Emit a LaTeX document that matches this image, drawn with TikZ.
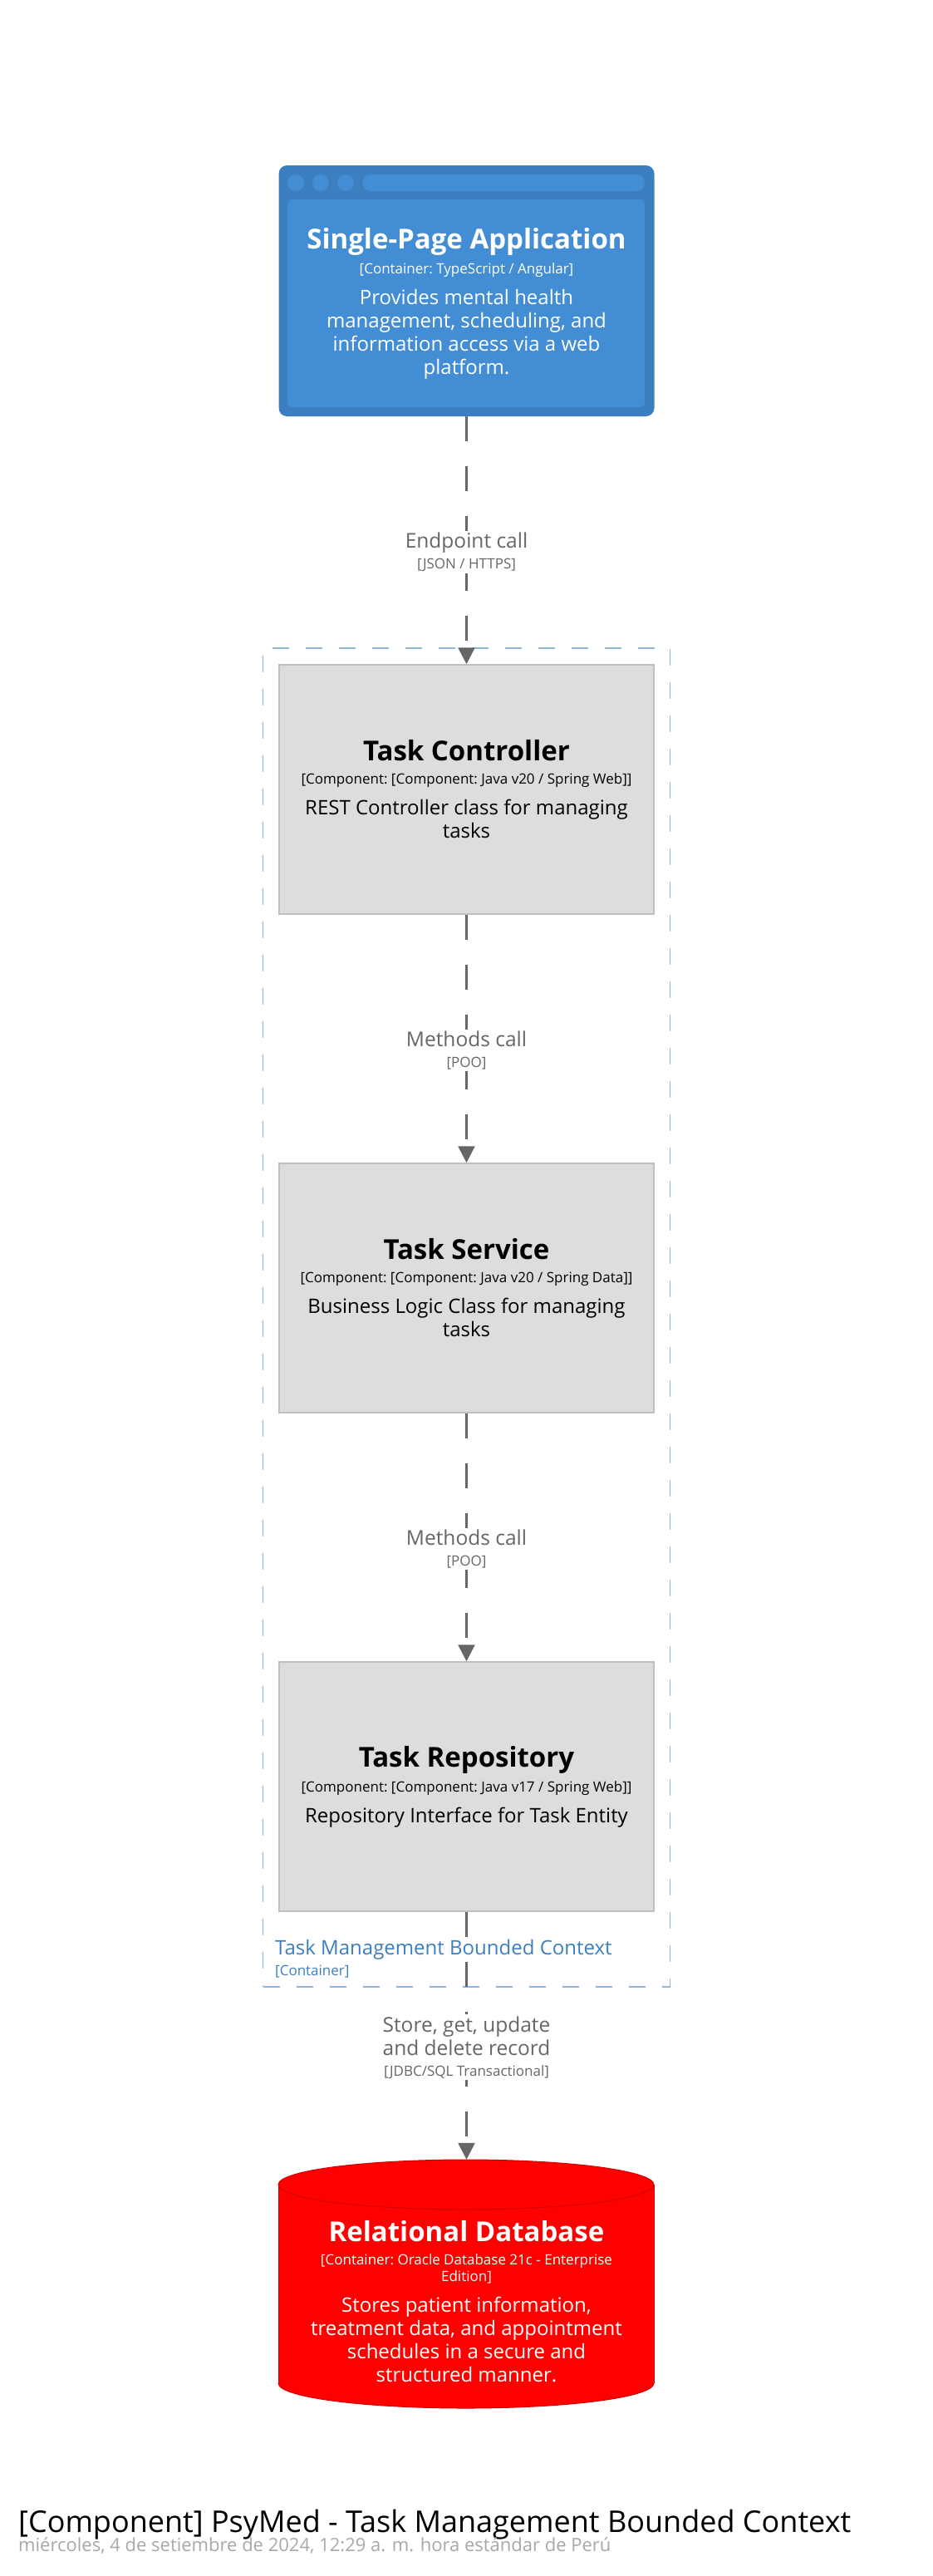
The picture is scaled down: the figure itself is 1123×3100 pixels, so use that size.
\documentclass[tikz,border=0pt]{standalone}
\usepackage{fontspec}
\setmainfont{Open Sans}
\usepackage{tikz}
\usetikzlibrary{arrows.meta}
\definecolor{spadark}{HTML}{3C7FC0}
\definecolor{spalight}{HTML}{438DD5}
\definecolor{compfill}{HTML}{DDDDDD}
\definecolor{compline}{HTML}{BFBFBF}
\definecolor{dbred}{HTML}{FF0000}
\definecolor{dbedge}{HTML}{D40000}
\definecolor{relgray}{HTML}{666666}
\definecolor{bndline}{HTML}{92B6DB}
\definecolor{bndtext}{HTML}{3C7FC0}
\definecolor{dategray}{HTML}{A8A8A8}
\setlength{\parindent}{0pt}
\newcommand{\natspace}{\spaceskip=0.26em\xspaceskip=0.26em\relax}
\newcommand{\cname}[1]{{\fontsize{33}{40}\selectfont\bfseries\natspace #1\par}}
\newcommand{\ctech}[1]{{\vspace{8pt}\fontsize{17}{20}\selectfont\natspace #1\par}}
\newcommand{\cdesc}[1]{{\vspace{9pt}\fontsize{24}{28}\selectfont\natspace #1\par}}
\newcommand{\rname}[1]{{\fontsize{24.5}{28}\selectfont\natspace #1\par}}
\newcommand{\rtech}[1]{{\fontsize{17}{25}\selectfont\natspace #1\par}}

\begin{document}
\begin{tikzpicture}[x=1pt, y=-1pt,
  spabox/.style={fill=spadark, rounded corners=10pt, minimum width=452pt,
                 minimum height=302pt, inner sep=0pt},
  spatext/.style={text=white, text width=410pt, align=center, inner sep=0pt},
  comp/.style={draw=compline, fill=compfill, line width=1.5pt,
               minimum width=451pt, minimum height=300pt,
               text width=430pt, align=center, inner sep=0pt},
  dbbox/.style={minimum width=452pt, minimum height=299pt, inner sep=0pt},
  dbtext/.style={text=white, text width=420pt, align=center, inner sep=0pt},
  dbcap/.style={x radius=226, y radius=30},
  boundary/.style={draw=bndline, line width=1.5pt, dash pattern=on 20pt off 20pt,
                   minimum width=490pt, minimum height=1611pt, inner sep=0pt},
  bndname/.style={anchor=base west, text=bndtext, inner sep=0pt,
                  font=\fontsize{24}{28}\selectfont},
  bndtech/.style={anchor=base west, text=bndtext, inner sep=0pt,
                  font=\fontsize{17}{20}\selectfont},
  rel/.style={draw=relgray, line width=2.5pt, dash pattern=on 30pt off 30pt,
              -{Triangle[width=20pt, length=20pt]}},
  rellabel/.style={midway, yshift=-14pt, fill=white, text=relgray,
                   text width=250pt, align=center, inner sep=2pt},
  diagtitle/.style={anchor=base west, inner sep=0pt, font=\fontsize{36}{40}\selectfont},
  diagdate/.style={anchor=base west, inner sep=0pt, text=dategray,
                   font=\fontsize{22}{26}\selectfont},
]
\useasboundingbox[fill=white] (0,0) rectangle (1123,3100);

% container boundary
\node[boundary] (tmbc) at (561.5,1585.5) {};
\node[bndname] (tmbcname) at (331,2352) {Task Management Bounded Context};
\node[bndtech] (tmbctech) at (331,2377) {[Container]};

% single-page application (browser window)
\node[spabox] (spa) at (561.5,350) {};
\foreach \cx in {356,386,416}
  \fill[spalight] (\cx,220) circle[radius=10pt];
\fill[spalight, rounded corners=10pt] (436,210) rectangle (776,230);
\fill[spalight, rounded corners=6pt] (346,240) rectangle (776,490);
\node[spatext] (spatext) at (561.5,365) {
  \cname{Single-Page Application}
  \ctech{[Container: TypeScript / Angular]}
  \cdesc{Provides mental health\\management, scheduling, and\\information access via a web\\platform.}
};

% components
\node[comp] (ctrl) at (561.5,950) {
  \cname{Task Controller}
  \ctech{[Component: [Component: Java v20 / Spring Web]]}
  \cdesc{REST Controller class for managing\\tasks}
};
\node[comp] (svc) at (561.5,1550) {
  \cname{Task Service}
  \ctech{[Component: [Component: Java v20 / Spring Data]]}
  \cdesc{Business Logic Class for managing\\tasks}
};
\node[comp] (repo) at (561.5,2150) {
  \cname{Task Repository}
  \ctech{[Component: [Component: Java v17 / Spring Web]]}
  \cdesc{Repository Interface for Task Entity}
};

% database cylinder
\fill[dbred] (335,2629) rectangle (787,2868);
\fill[dbred] (561,2868) ellipse[dbcap];
\begin{scope}
  \clip (330,2868) rectangle (792,2905);
  \draw[dbedge, line width=1pt] (561,2868) ellipse[dbcap];
\end{scope}
\draw[dbedge, line width=1pt] (335,2629) -- (335,2868) (787,2629) -- (787,2868);
\filldraw[fill=dbred, draw=dbedge, line width=1pt] (561,2629) ellipse[dbcap];
\node[dbbox] (db) at (561.5,2748.5) {};
\node[dbtext] (dbtext) at (561.5,2770) {
  \cname{Relational Database}
  \ctech{[Container: Oracle Database 21c - Enterprise\\Edition]}
  \cdesc{Stores patient information,\\treatment data, and appointment\\schedules in a secure and\\structured manner.}
};

% relations
\draw[rel] (spa.south) -- node[rellabel] (lblspa)
  {\rname{Endpoint call}\rtech{[JSON / HTTPS]}} (ctrl.north);
\draw[rel] (ctrl.south) -- node[rellabel] (lblctrl)
  {\rname{Methods call}\rtech{[POO]}} (svc.north);
\draw[rel] (svc.south) -- node[rellabel] (lblsvc)
  {\rname{Methods call}\rtech{[POO]}} (repo.north);
\draw[rel] (repo.south) -- node[rellabel] (lblrepo)
  {\rname{Store, get, update\\and delete record}\rtech{[JDBC/SQL Transactional]}} (db.north);

% title
\node[diagtitle] (title) at (22,3047) {[Component] PsyMed - Task Management Bounded Context};
\node[diagdate] (date) at (22,3070) {miércoles, 4 de setiembre de 2024, 12:29 a. m. hora estándar de Perú};
\end{tikzpicture}
\end{document}
